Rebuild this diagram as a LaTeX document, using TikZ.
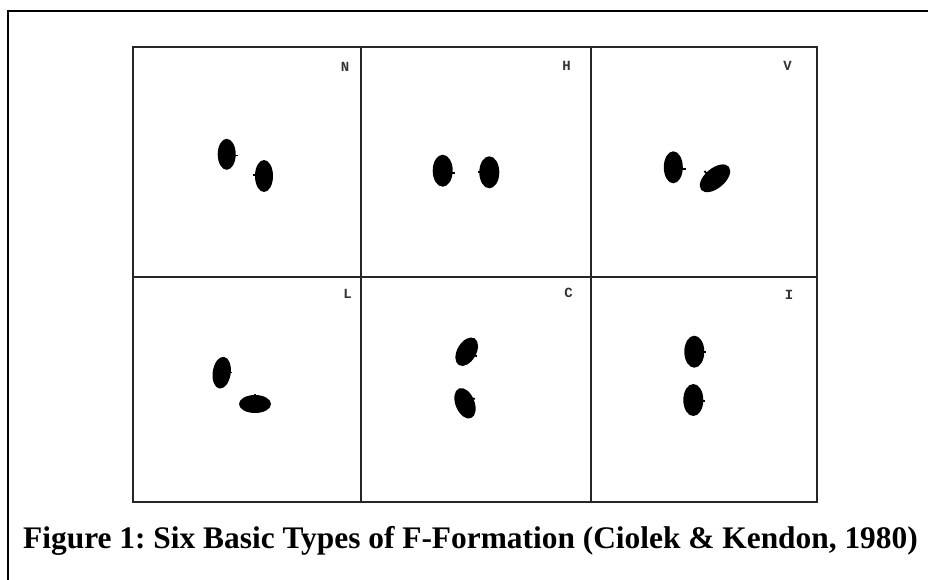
\documentclass[tikz,border=0pt]{standalone}
\usepackage{fontspec}
\setmainfont{Liberation Serif}
\newfontfamily\monofont{Liberation Mono}
\begin{document}
\begin{tikzpicture}[x=1pt,y=-1pt,
  gridline/.style={line width=1.8pt,black!85},
  frameline/.style={line width=2.4pt,black},
  person/.style={fill=black},
  nub/.style={line width=1.8pt,black},
  tag/.style={font=\monofont\bfseries\fontsize{14}{14}\selectfont,inner sep=0pt,black!80},
  caption/.style={font=\bfseries\fontsize{31.4}{33}\selectfont\frenchspacing,inner sep=0pt}]
\useasboundingbox (0,0) rectangle (928,579);
% outer frame (only top and left edges lie inside the page)
\draw[frameline] (8,582) -- (8,11) -- (932,11);
% 3 x 2 grid of panels
\draw[gridline] (133,47) rectangle (817,502);
\draw[gridline] (133,277) -- (817,277);
\draw[gridline] (361,47) -- (361,502);
\draw[gridline] (591,47) -- (591,502);
% panel letters
\node[tag] (tN) at (345,67) {N};
\node[tag] (tH) at (566.5,65.5) {H};
\node[tag] (tV) at (787.5,65.5) {V};
\node[tag] (tL) at (347.5,294) {L};
\node[tag] (tC) at (568.5,292.5) {C};
\node[tag] (tI) at (789,295) {I};
% N
\fill[person] (226.7,154.3) ellipse [x radius=9, y radius=15.5];
\draw[nub] (235,155.5) -- (237.5,155.5);
\fill[person] (264,176) ellipse [x radius=9, y radius=16];
\draw[nub] (255.5,175) -- (253,175);
% H
\fill[person] (442.7,170.7) ellipse [x radius=10, y radius=16];
\draw[nub] (452,173) -- (454.5,173);
\fill[person] (489.3,172.3) ellipse [x radius=10, y radius=16];
\draw[nub] (480,172) -- (477.5,172);
% V
\fill[person] (673.3,167.3) ellipse [x radius=9.5, y radius=16];
\draw[nub] (682,169) -- (685.5,169);
\fill[person,rotate around={40:(715,178.3)}] (715,178.3) ellipse [x radius=18, y radius=10];
\draw[nub] (706.5,173.5) -- (704.5,171);
% L
\fill[person,rotate around={-8:(221.7,372.7)}] (221.7,372.7) ellipse [x radius=9, y radius=16];
\draw[nub] (229.5,372.5) -- (232,372.5);
\fill[person] (255,404) ellipse [x radius=16, y radius=9];
\draw[nub] (255,396) -- (255,393.5);
% C
\fill[person,rotate around={-30:(466.7,351.7)}] (466.7,351.7) ellipse [x radius=9.5, y radius=15.5];
\draw[nub] (474.5,355.5) -- (477,356.2);
\fill[person,rotate around={22:(465,403.3)}] (465,403.3) ellipse [x radius=9.5, y radius=16];
\draw[nub] (472.5,398.5) -- (475,398.8);
% I
\fill[person] (694.3,351.7) ellipse [x radius=10, y radius=16];
\draw[nub] (703.5,352) -- (706,352);
\fill[person] (693.3,400) ellipse [x radius=10, y radius=16];
\draw[nub] (702.5,401) -- (705,401);
% caption
\node[caption,anchor=base] (cap) at (470.5,548) {Figure 1: Six Basic Types of F-Formation (Ciolek \& Kendon, 1980)};
\end{tikzpicture}
\end{document}
